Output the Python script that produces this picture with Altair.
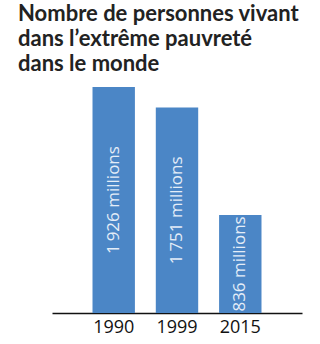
import altair as alt
import pandas as pd

years = ["1990", "1999", "2015"]
values = [1926, 1751, 836]

def fmt(v):
    if v >= 1000:
        return f"{v // 1000}\u2009{v % 1000:03d} millions"
    return f"{v} millions"

labels = [fmt(v) for v in values]

df = pd.DataFrame({"year": years, "value": values, "label": labels})

base = alt.Chart(df).encode(
    x=alt.X("year:N", sort=years,
            scale=alt.Scale(paddingInner=0.33, paddingOuter=0.64),
            axis=alt.Axis(title=None, labelAngle=0, ticks=False, domainColor="#111",
                          domainWidth=1.5, labelFont="Open Sans", labelFontSize=18,
                          labelColor="#111", labelPadding=5)),
)

bars = base.mark_bar(color="#4b86c6").encode(
    y=alt.Y("value:Q", scale=alt.Scale(domain=[0, 1926]), axis=None)
)

text = base.transform_calculate(mid="datum.value / 2").mark_text(
    angle=270, align="center", baseline="middle", font="Open Sans",
    fontSize=17, color="#e4edf8"
).encode(
    y=alt.Y("mid:Q", scale=alt.Scale(domain=[0, 1926]), axis=None),
    text="label:N",
)

chart = (bars + text).properties(
    width=250, height=226,
    autosize=alt.AutoSizeParams(type="none"),
    padding={"left": 52, "top": 87, "right": 18, "bottom": 31},
    background="white",
    title=alt.Title(
        ["Nombre de personnes vivant", "dans l\u2019extr\u00eame pauvret\u00e9", "dans le monde"],
        anchor="start", font="Lato", fontSize=22, fontWeight="bold", color="#222",
        lineHeight=25, offset=11, dx=-34,
    ),
).configure_view(stroke=None)

chart.save("out.html", embed_options={"renderer": "svg", "actions": False})
